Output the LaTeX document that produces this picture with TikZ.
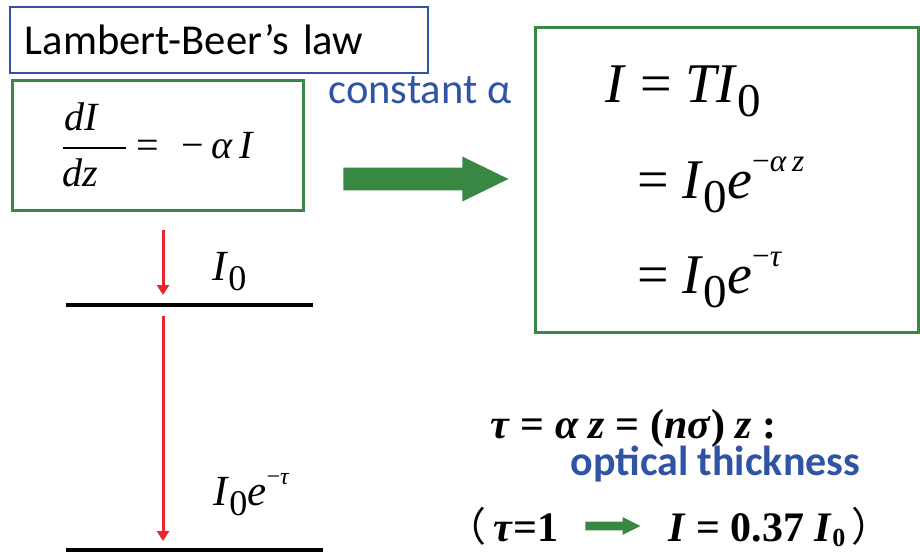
\documentclass[tikz,border=0pt]{standalone}
\usepackage{fontspec}
\usepackage{graphicx}
\usepackage{amsmath}
\setmainfont{Liberation Serif}
\newfontfamily\carlito{Carlito}
\newfontfamily\cjk{Noto Sans CJK SC}
\usetikzlibrary{shapes.arrows,arrows.meta}
\definecolor{bxblue}{RGB}{47,84,166}
\definecolor{bxgreen}{RGB}{56,135,67}
\definecolor{arred}{RGB}{232,38,45}
\newcommand\dn[1]{\raisebox{-0.25em}{\scalebox{0.84}{#1}}}
\newcommand\dns[1]{\raisebox{-0.14em}{\scalebox{0.62}{#1}}}
\newcommand\up[1]{\raisebox{0.48em}{\scalebox{0.56}{#1}}}
\begin{document}
\begin{tikzpicture}[x=0.5pt,y=-0.5pt,
  bluebox/.style={draw=bxblue, line width=1.25pt, rectangle},
  greenbox/.style={draw=bxgreen, line width=1.5pt, rectangle},
  txt/.style={inner sep=0pt, anchor=base west},
  blockarrow/.style={single arrow, fill=bxgreen, draw=none, single arrow head indent=0pt, anchor=tail},
  ray/.style={draw=arred, line width=1.5pt, -{Triangle[length=5pt,width=6pt]}},
  layer/.style={draw=black, line width=2pt},
  fbig/.style={font=\fontsize{28}{33}\selectfont},
  fmid/.style={font=\fontsize{21.5}{25}\selectfont},
  fbold/.style={font=\fontsize{21}{25}\selectfont\bfseries}]
\useasboundingbox (0,0) rectangle (920,552);

% title box
\node[bluebox, minimum width=209pt, minimum height=33pt, inner xsep=7.5pt, text width=194pt, align=left,
      font=\fontsize{21.3}{25}\selectfont\carlito] (title) at (219,40) {Lambert-Beer’s law};

% differential equation box
\node[greenbox, minimum width=145.5pt, minimum height=65pt, inner sep=0pt,
      font=\fontsize{20}{24}\selectfont] (lbox) at (157.5,145)
  {$\dfrac{\textit{dI}\hspace{0.7em}}{\textit{dz}\hspace{0.7em}}$\hspace{0.2em}=\hspace{0.55em}−\hspace{0.2em}\textit{α}\hspace{0.15em}\textit{I}};

% constant alpha
\node[txt, text=bxblue, font=\fontsize{21.3}{25}\selectfont\carlito] (const) at (328,103) {constant α};

% big arrow
\node[blockarrow, minimum height=82.5pt, minimum width=22pt, inner sep=5.5pt,
      single arrow head extend=5.5pt, single arrow tip angle=52] (bigarr) at (343,179) {};

% solution box
\node[greenbox, minimum width=191.5pt, minimum height=152.5pt] (rbox) at (726.5,179.5) {};
\node[txt, fbig] (eq1) at (605,102) {\textit{I} = \textit{TI}\dn{0}};
\node[txt, fbig] (eq2) at (637,198) {= \textit{I}\dn{0}\textit{e}\up{−\textit{α}\,\textit{z}}};
\node[txt, fbig] (eq3) at (637,293) {= \textit{I}\dn{0}\textit{e}\up{−\textit{τ}}};

% layers and rays
\coordinate (s1a) at (66,305);
\coordinate (s1b) at (313,305);
\coordinate (s2a) at (66,550);
\coordinate (s2b) at (323,550);
\draw[layer] (s1a) -- (s1b);
\draw[layer] (s2a) -- (s2b);
\coordinate (r1s) at (163,230);
\coordinate (r1e) at (163,295);
\coordinate (r2s) at (163,316);
\coordinate (r2e) at (163,541);
\draw[ray] (r1s) -- (r1e);
\draw[ray] (r2s) -- (r2e);
\node[txt, fmid] (lab1) at (212,280) {\textit{I}\dn{0}};
\node[txt, fmid] (lab2) at (213,505) {\textit{I}\dn{0}\textit{e}\up{−\textit{τ}}};

% optical thickness
\node[txt, fbold] (taueq) at (490,438) {\textit{τ} = \textit{α z} = (\textit{nσ}) \textit{z} :};
\node[txt, text=bxblue, font=\fontsize{21}{25}\selectfont\carlito\bfseries] (opt) at (570,475) {optical thickness};
\node[txt, font=\fontsize{20}{24}\selectfont\cjk] (lp) at (446,541) {（};
\node[txt, fbold] (tau1) at (493,541) {\textit{τ}=1};
\node[blockarrow, minimum height=27.5pt, minimum width=8.5pt, inner sep=2pt,
      single arrow head extend=2.25pt, single arrow tip angle=53] (smarr) at (585,526) {};
\node[txt, fbold] (res) at (668,541) {\textit{I} = 0.37 \textit{I}\dns{0}};
\node[txt, font=\fontsize{20}{24}\selectfont\cjk] (rp) at (851,541) {）};
\end{tikzpicture}
\end{document}
